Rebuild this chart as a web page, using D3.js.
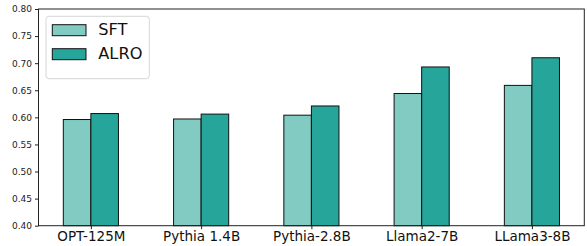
<!DOCTYPE html>
<html>
<head>
<meta charset="utf-8">
<script src="https://cdn.jsdelivr.net/npm/d3@7"></script>
<style>
  body { margin: 0; background: #fff; }
  svg text { font-family: "DejaVu Sans", "Liberation Sans", sans-serif; }
</style>
</head>
<body>
<div id="plot"></div>
<script>
// data
var models = ["OPT-125M", "Pythia 1.4B", "Pythia-2.8B", "Llama2-7B", "LLama3-8B"];
var sftValues = [0.596, 0.597, 0.604, 0.644, 0.659];
var alroValues = [0.607, 0.606, 0.621, 0.693, 0.710];
var seriesNames = ["SFT", "ALRO"];
var seriesColors = ["#82cbc3", "#26a59a"];
var yTicks = [0.40, 0.45, 0.50, 0.55, 0.60, 0.65, 0.70, 0.75, 0.80];

var W = 587, H = 246;
// plot area (note: "top" is reserved on window, so use other names)
var plotL = 38.5, plotR = 584.3, plotT = 9, plotB = 225.7;

var svg = d3.select("#plot").append("svg")
  .attr("width", W).attr("height", H)
  .style("display", "block");

// x as numeric index, like matplotlib with 0.25 bar width and 5% margins
var barW = 0.25;
var x = d3.scaleLinear()
  .domain([-0.475, models.length - 1 + 0.475])
  .range([plotL, plotR]);

var y = d3.scaleLinear()
  .domain([0.40, 0.80])
  .range([plotB, plotT]);

// bars
var series = [sftValues, alroValues];
series.forEach(function(vals, s) {
  svg.append("g")
    .selectAll("rect")
    .data(vals)
    .enter()
    .append("rect")
      .attr("x", function(d, i) { return x(i - barW + s * barW); })
      .attr("y", function(d) { return y(d); })
      .attr("width", x(barW) - x(0))
      .attr("height", function(d) { return y(0.40) - y(d); })
      .style("fill", seriesColors[s])
      .style("stroke", "#111")
      .style("stroke-width", 1);
});

// Y axis
var yAxis = svg.append("g")
  .attr("transform", "translate(" + plotL + ",0)")
  .call(d3.axisLeft(y).tickValues(yTicks).tickFormat(d3.format(".2f")).tickSize(3.5).tickPadding(3));
yAxis.attr("font-family", null);
yAxis.select(".domain").remove();
yAxis.selectAll("text").style("font-size", "9px").style("fill", "#222");
yAxis.selectAll("line").style("stroke", "#222");

// X axis
var xAxis = svg.append("g")
  .attr("transform", "translate(0," + plotB + ")")
  .call(d3.axisBottom(x).tickValues(d3.range(models.length))
    .tickFormat(function(i) { return models[i]; }).tickSize(3.5).tickPadding(2));
xAxis.attr("font-family", null);
xAxis.select(".domain").remove();
xAxis.selectAll("text").style("font-size", "13.5px").style("fill", "#111");
xAxis.selectAll("line").style("stroke", "#222");

// frame
svg.append("rect")
  .attr("x", plotL).attr("y", plotT)
  .attr("width", plotR - plotL).attr("height", plotB - plotT)
  .style("fill", "none")
  .style("stroke", "#222")
  .style("stroke-width", 1);

// legend
var lg = svg.append("g");
lg.append("rect")
  .attr("x", 46).attr("y", 16.3)
  .attr("width", 103.3).attr("height", 62.4)
  .attr("rx", 3)
  .style("fill", "#fff").style("fill-opacity", 0.8)
  .style("stroke", "#d6d6d6").style("stroke-width", 1);

lg.selectAll("rect.key")
  .data(seriesNames)
  .enter()
  .append("rect")
    .attr("class", "key")
    .attr("x", 52.3)
    .attr("y", function(d, i) { return 24.7 + i * 24; })
    .attr("width", 33.7)
    .attr("height", 11)
    .style("fill", function(d, i) { return seriesColors[i]; })
    .style("stroke", "#111");

lg.selectAll("text")
  .data(seriesNames)
  .enter()
  .append("text")
    .attr("x", 98.3)
    .attr("y", function(d, i) { return 29.4 + i * 24; })
    .attr("dy", "0.36em")
    .style("font-size", "16.2px")
    .style("fill", "#111")
    .text(function(d) { return d; });
</script>
</body>
</html>
